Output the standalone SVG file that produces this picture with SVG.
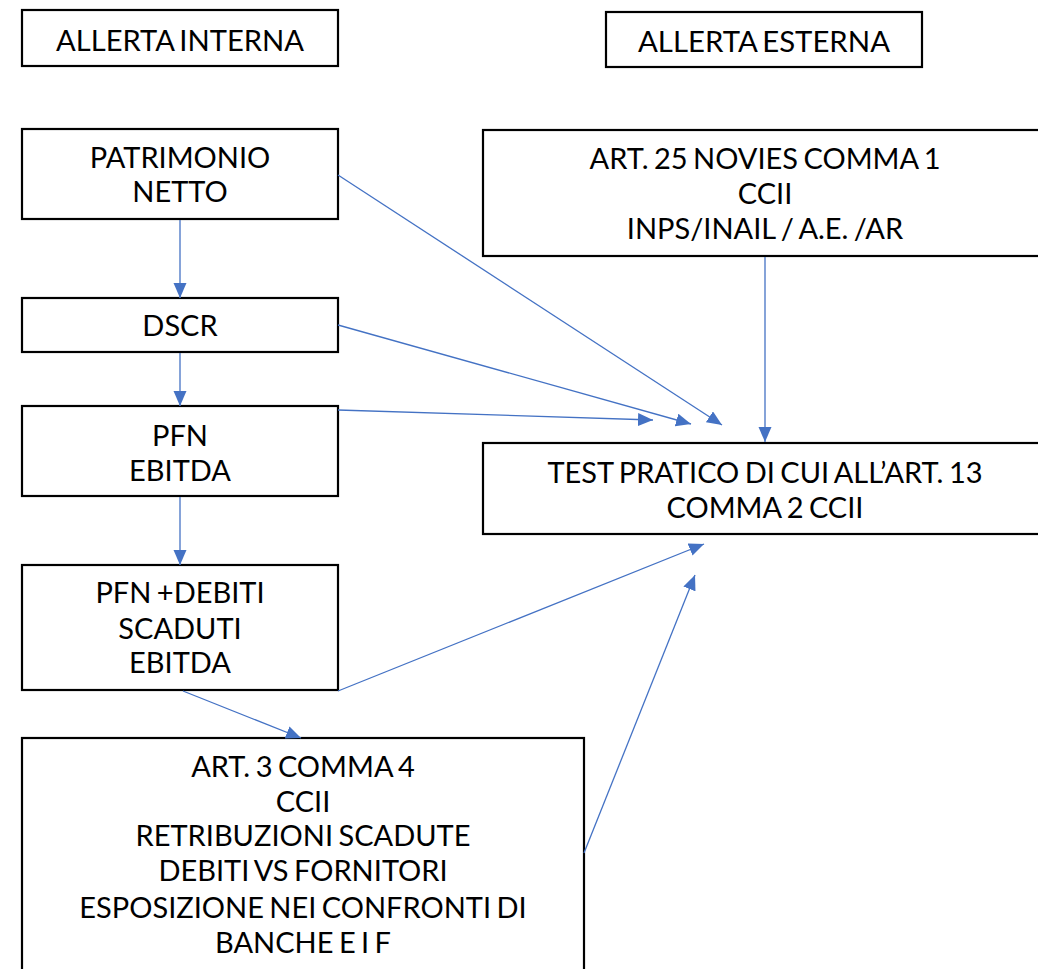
<svg xmlns="http://www.w3.org/2000/svg" width="1038" height="969" viewBox="0 0 1038 969">
<style>
.box{fill:#fff;stroke:#000;stroke-width:2.2}
.t{font-family:Lato,"Open Sans","Liberation Sans",sans-serif;font-size:29px;font-weight:400;word-spacing:-2px;fill:#000;text-anchor:middle}
.h{font-size:28px}
.c{fill:none;stroke:#4472C4;stroke-width:1.3;marker-end:url(#ah)}
</style>
<defs>
<marker id="ah" markerUnits="userSpaceOnUse" markerWidth="16" markerHeight="14" refX="15" refY="6.5" orient="auto">
<path d="M0,0 L15,6.5 L0,13 z" fill="#4472C4"/>
</marker>
</defs>
<rect width="1038" height="969" fill="#fff"/>
<g id="n-interna"><rect class="box" x="22" y="10" width="316" height="56"/><text class="t h" x="180" y="51" textLength="248" lengthAdjust="spacingAndGlyphs">ALLERTA INTERNA</text></g>
<g id="n-esterna"><rect class="box" x="606" y="12" width="316" height="55"/><text class="t h" x="764" y="52" textLength="252" lengthAdjust="spacingAndGlyphs">ALLERTA ESTERNA</text></g>
<g id="n-patrimonio"><rect class="box" x="22" y="129" width="316" height="90"/><text class="t" x="180" y="168">PATRIMONIO</text><text class="t" x="180" y="202">NETTO</text></g>
<g id="n-art25"><rect class="box" x="483" y="130" width="570" height="126"/><text class="t" x="765" y="169">ART. 25 NOVIES COMMA 1</text><text class="t" x="765" y="204">CCII</text><text class="t" x="765" y="239">INPS/INAIL / A.E. /AR</text></g>
<g id="n-dscr"><rect class="box" x="22" y="298" width="316" height="54"/><text class="t" x="180" y="336">DSCR</text></g>
<g id="n-pfn"><rect class="box" x="22" y="406" width="316" height="90"/><text class="t" x="180" y="446">PFN</text><text class="t" x="180" y="481">EBITDA</text></g>
<g id="n-test"><rect class="box" x="483" y="443" width="570" height="91"/><text class="t" x="765" y="483">TEST PRATICO DI CUI ALL’ART. 13</text><text class="t" x="765" y="518">COMMA 2 CCII</text></g>
<g id="n-pfndebiti"><rect class="box" x="22" y="565" width="316" height="125"/><text class="t" x="180" y="603">PFN +DEBITI</text><text class="t" x="180" y="639">SCADUTI</text><text class="t" x="180" y="673">EBITDA</text></g>
<g id="n-art3"><rect class="box" x="22" y="738" width="562" height="245"/><text class="t" x="303" y="777">ART. 3 COMMA 4</text><text class="t" x="303" y="812">CCII</text><text class="t" x="303" y="846">RETRIBUZIONI SCADUTE</text><text class="t" x="303" y="881">DEBITI VS FORNITORI</text><text class="t" x="303" y="918">ESPOSIZIONE NEI CONFRONTI DI</text><text class="t" x="303" y="953">BANCHE E I F</text></g>
<g id="connectors">
<line class="c" x1="180" y1="220" x2="180" y2="298"/>
<line class="c" x1="180" y1="353" x2="180" y2="406"/>
<line class="c" x1="180" y1="497" x2="180" y2="565"/>
<line class="c" x1="183" y1="691" x2="301" y2="738"/>
<line class="c" x1="338" y1="175" x2="722" y2="425"/>
<line class="c" x1="338" y1="325" x2="691" y2="424"/>
<line class="c" x1="338" y1="410" x2="653" y2="420"/>
<line class="c" x1="765" y1="257" x2="765" y2="442"/>
<line class="c" x1="338" y1="691" x2="704" y2="544"/>
<line class="c" x1="584" y1="853" x2="695" y2="575"/>
</g>
</svg>
